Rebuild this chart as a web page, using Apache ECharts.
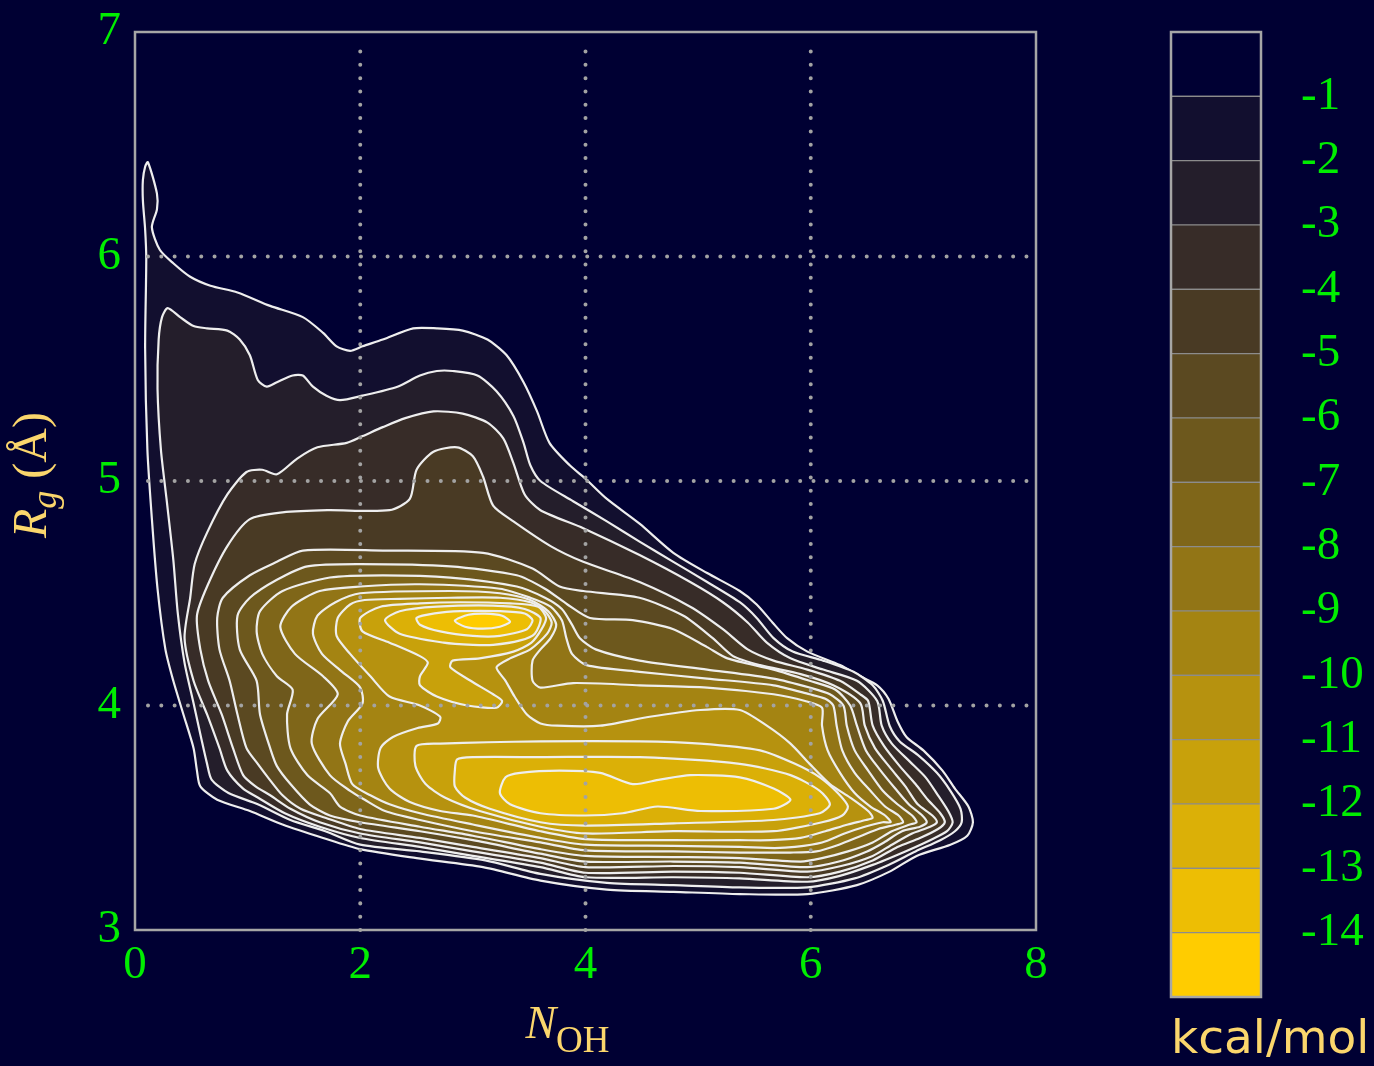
<!DOCTYPE html>
<html><head><meta charset="utf-8">
<script src="https://cdn.jsdelivr.net/npm/echarts/dist/echarts.min.js"></script>
<style>html,body{margin:0;padding:0;background:#000033;}#c{width:1374px;height:1066px;}</style>
</head><body><div id="c"></div>
<script>
// ---- axes / ticks ----
const xTicks = [0, 2, 4, 6, 8];
const yTicks = [3, 4, 5, 6, 7];
const gridX = [2, 4, 6];
const gridY = [4, 5, 6];
// ---- free-energy levels (kcal/mol) and colour scale ----
const levels = [-1, -2, -3, -4, -5, -6, -7, -8, -9, -10, -11, -12, -13, -14];
const fillColors = ['#120f2f', '#241e2b', '#372c28', '#493a24', '#5b4921', '#6d581d', '#7f6619',
                    '#927516', '#a48412', '#b6920f', '#c8a10b', '#dbb007', '#edbe04', '#ffcc00'];
const bandColors = ['#000033'].concat(fillColors);

// ---- contour outlines, [N_OH, Rg] ----
const cL1 = [[0.115,6.42],[0.195,6.28],[0.195,6.21],[0.15,6.13],[0.22,6.03],[0.34,5.97],[0.49,5.91],[0.67,5.87],[0.91,5.84],[1.2,5.78],[1.49,5.73],[1.67,5.66],[1.79,5.60],[1.91,5.58],[2.02,5.60],[2.2,5.63],[2.47,5.68],[2.68,5.68],[2.91,5.67],[3.13,5.63],[3.30,5.56],[3.45,5.44],[3.57,5.31],[3.68,5.17],[3.86,5.07],[4.0,5.01],[4.19,4.92],[4.48,4.81],[4.78,4.68],[5.08,4.59],[5.37,4.51],[5.52,4.45],[5.66,4.37],[5.79,4.30],[5.97,4.24],[6.26,4.18],[6.44,4.13],[6.59,4.09],[6.69,4.03],[6.77,3.93],[6.85,3.86],[7.0,3.80],[7.17,3.71],[7.28,3.63],[7.40,3.55],[7.44,3.48],[7.39,3.42],[7.24,3.38],[6.94,3.33],[6.70,3.26],[6.41,3.20],[5.97,3.16],[5.37,3.16],[4.78,3.17],[4.19,3.18],[3.6,3.22],[3.09,3.28],[2.5,3.32],[2.0,3.36],[1.67,3.41],[1.31,3.47],[1.02,3.53],[0.73,3.58],[0.58,3.64],[0.55,3.71],[0.52,3.81],[0.43,3.96],[0.34,4.11],[0.27,4.25],[0.2,4.52],[0.15,4.83],[0.11,5.14],[0.09,5.59],[0.1,5.99],[0.09,6.12],[0.07,6.25],[0.07,6.34],[0.09,6.40]];
const cL2 = [[0.29,5.77],[0.40,5.73],[0.52,5.69],[0.64,5.68],[0.82,5.67],[0.93,5.63],[1.02,5.56],[1.09,5.45],[1.17,5.42],[1.26,5.44],[1.40,5.47],[1.49,5.47],[1.58,5.42],[1.70,5.38],[1.82,5.36],[2.02,5.38],[2.33,5.42],[2.53,5.47],[2.68,5.49],[2.82,5.49],[3.04,5.47],[3.21,5.40],[3.36,5.29],[3.45,5.17],[3.51,5.07],[3.60,5.0],[3.89,4.91],[4.19,4.82],[4.48,4.73],[4.78,4.64],[5.08,4.55],[5.37,4.46],[5.52,4.39],[5.67,4.30],[5.84,4.24],[6.11,4.20],[6.38,4.15],[6.55,4.09],[6.64,4.02],[6.70,3.91],[6.79,3.84],[6.95,3.78],[7.12,3.70],[7.24,3.62],[7.33,3.54],[7.34,3.48],[7.28,3.44],[7.15,3.40],[6.93,3.35],[6.69,3.29],[6.39,3.23],[5.97,3.19],[5.37,3.19],[4.78,3.20],[4.19,3.21],[3.60,3.25],[3.11,3.31],[2.53,3.35],[2.0,3.38],[1.69,3.44],[1.38,3.49],[1.09,3.56],[0.83,3.61],[0.68,3.67],[0.64,3.74],[0.59,3.85],[0.52,4.01],[0.44,4.19],[0.38,4.41],[0.34,4.65],[0.28,4.92],[0.23,5.14],[0.20,5.41],[0.21,5.63],[0.24,5.73]];
const cL3 = [[0.44,4.30],[0.49,4.48],[0.53,4.63],[0.64,4.77],[0.82,4.94],[0.99,5.04],[1.13,5.05],[1.26,5.03],[1.44,5.10],[1.62,5.15],[1.88,5.17],[2.02,5.20],[2.20,5.24],[2.40,5.28],[2.65,5.31],[2.91,5.30],[3.13,5.26],[3.27,5.19],[3.36,5.08],[3.46,4.94],[3.60,4.87],[3.98,4.79],[4.48,4.67],[4.93,4.55],[5.22,4.46],[5.44,4.37],[5.61,4.28],[5.82,4.21],[6.11,4.16],[6.41,4.11],[6.59,4.02],[6.63,3.91],[6.72,3.83],[6.88,3.75],[7.02,3.68],[7.13,3.60],[7.22,3.53],[7.26,3.48],[7.21,3.44],[7.06,3.40],[6.84,3.35],[6.55,3.29],[6.25,3.24],[5.97,3.215],[5.37,3.23],[4.78,3.235],[4.0,3.235],[3.60,3.28],[3.0,3.33],[2.53,3.37],[2.0,3.41],[1.64,3.46],[1.33,3.52],[1.09,3.59],[0.96,3.63],[0.82,3.71],[0.75,3.81],[0.64,3.96],[0.52,4.11]];
const cL4 = [[0.58,4.25],[0.55,4.40],[0.64,4.53],[0.82,4.71],[1.02,4.83],[1.31,4.86],[1.71,4.87],[2.26,4.87],[2.44,4.92],[2.50,5.05],[2.65,5.13],[2.86,5.15],[3.0,5.11],[3.09,5.02],[3.18,4.89],[3.36,4.82],[3.69,4.71],[3.98,4.64],[4.48,4.55],[4.93,4.44],[5.22,4.34],[5.44,4.25],[5.67,4.20],[5.97,4.16],[6.26,4.11],[6.44,4.05],[6.51,4.02],[6.55,3.91],[6.65,3.82],[6.79,3.73],[6.93,3.65],[7.04,3.58],[7.15,3.52],[7.19,3.48],[7.13,3.45],[6.97,3.41],[6.77,3.37],[6.55,3.31],[6.26,3.26],[5.97,3.235],[5.37,3.255],[4.78,3.26],[4.0,3.255],[3.60,3.30],[3.0,3.35],[2.53,3.39],[2.0,3.43],[1.64,3.48],[1.38,3.54],[1.20,3.60],[1.07,3.64],[0.96,3.69],[0.87,3.81],[0.77,3.96],[0.65,4.11]];
const cL5 = [[0.75,4.25],[0.73,4.39],[0.78,4.48],[1.02,4.58],[1.26,4.64],[1.49,4.69],[2.20,4.69],[3.09,4.68],[3.53,4.61],[3.77,4.53],[3.98,4.51],[4.48,4.48],[4.87,4.40],[5.13,4.30],[5.31,4.22],[5.55,4.18],[5.91,4.14],[6.20,4.09],[6.44,4.01],[6.48,3.91],[6.57,3.81],[6.71,3.72],[6.84,3.64],[6.95,3.56],[7.08,3.51],[7.12,3.48],[7.06,3.46],[6.90,3.43],[6.72,3.38],[6.55,3.33],[6.27,3.285],[5.97,3.26],[5.37,3.28],[4.78,3.285],[4.0,3.28],[3.60,3.32],[3.0,3.37],[2.53,3.41],[2.0,3.45],[1.69,3.50],[1.47,3.54],[1.31,3.60],[1.18,3.68],[1.09,3.74],[0.99,3.81],[0.91,3.96],[0.84,4.11]];
const cL6 = [[0.93,4.25],[0.91,4.40],[1.02,4.48],[1.26,4.56],[1.53,4.62],[2.0,4.63],[2.80,4.62],[3.39,4.58],[3.64,4.52],[3.84,4.45],[4.04,4.39],[4.42,4.38],[4.78,4.34],[5.08,4.26],[5.26,4.21],[5.67,4.16],[5.99,4.11],[6.22,4.07],[6.35,4.00],[6.41,3.91],[6.49,3.80],[6.62,3.71],[6.75,3.63],[6.87,3.56],[6.99,3.51],[7.03,3.48],[6.97,3.46],[6.81,3.44],[6.65,3.39],[6.50,3.35],[6.25,3.305],[5.97,3.28],[5.37,3.30],[4.78,3.305],[4.0,3.305],[3.60,3.34],[3.0,3.40],[2.53,3.44],[2.0,3.48],[1.73,3.51],[1.55,3.56],[1.38,3.65],[1.26,3.73],[1.20,3.81],[1.11,3.96],[1.08,4.11]];
const cL7 = [[1.13,4.23],[1.08,4.33],[1.11,4.42],[1.31,4.51],[1.73,4.57],[2.20,4.58],[2.80,4.57],[3.39,4.53],[3.64,4.48],[3.79,4.43],[3.88,4.36],[3.95,4.30],[4.09,4.25],[4.48,4.20],[5.08,4.16],[5.67,4.12],[5.99,4.08],[6.17,4.05],[6.29,4.00],[6.32,3.91],[6.39,3.80],[6.51,3.71],[6.64,3.62],[6.77,3.56],[6.90,3.51],[6.94,3.48],[6.88,3.47],[6.72,3.44],[6.55,3.39],[6.33,3.35],[6.10,3.32],[5.91,3.305],[5.37,3.32],[4.78,3.325],[4.0,3.33],[3.60,3.36],[3.0,3.42],[2.53,3.46],[2.0,3.51],[1.82,3.55],[1.73,3.61],[1.53,3.69],[1.38,3.81],[1.35,3.96],[1.40,4.07],[1.26,4.13]];
const cL8 = [[1.29,4.35],[1.39,4.44],[1.64,4.51],[2.0,4.53],[2.53,4.54],[3.24,4.52],[3.51,4.48],[3.69,4.44],[3.79,4.38],[3.83,4.30],[3.88,4.23],[4.01,4.18],[4.48,4.15],[5.08,4.12],[5.67,4.09],[5.99,4.05],[6.13,4.03],[6.20,4.00],[6.23,3.91],[6.28,3.80],[6.39,3.70],[6.53,3.62],[6.66,3.55],[6.78,3.51],[6.82,3.48],[6.76,3.47],[6.60,3.45],[6.45,3.42],[6.25,3.38],[6.05,3.35],[5.82,3.345],[5.37,3.345],[4.78,3.35],[4.0,3.355],[3.60,3.39],[3.0,3.44],[2.53,3.49],[2.22,3.53],[2.04,3.58],[1.91,3.62],[1.73,3.69],[1.57,3.83],[1.62,3.94],[1.80,4.05],[1.67,4.13],[1.42,4.23]];
const cL9 = [[1.78,4.46],[2.0,4.50],[2.80,4.51],[3.24,4.50],[3.51,4.47],[3.67,4.42],[3.74,4.36],[3.69,4.30],[3.60,4.25],[3.53,4.20],[3.53,4.11],[3.60,4.08],[3.89,4.10],[4.48,4.09],[5.08,4.08],[5.67,4.05],[5.95,4.02],[6.10,3.99],[6.10,3.91],[6.15,3.80],[6.26,3.70],[6.39,3.61],[6.53,3.55],[6.66,3.51],[6.71,3.48],[6.64,3.48],[6.48,3.46],[6.30,3.43],[6.10,3.39],[5.86,3.37],[5.68,3.365],[5.37,3.37],[4.78,3.375],[4.0,3.38],[3.60,3.41],[3.0,3.47],[2.53,3.52],[2.26,3.56],[2.09,3.60],[1.93,3.65],[1.87,3.74],[1.82,3.83],[1.89,3.93],[2.02,4.01],[2.0,4.08],[1.84,4.15],[1.66,4.23],[1.58,4.32],[1.62,4.40]];
const cL10 = [[1.80,4.39],[1.91,4.45],[2.04,4.47],[2.35,4.475],[2.80,4.48],[3.24,4.48],[3.51,4.46],[3.64,4.42],[3.70,4.37],[3.66,4.32],[3.51,4.25],[3.33,4.21],[3.21,4.17],[3.29,4.11],[3.37,4.04],[3.48,3.96],[3.60,3.92],[3.75,3.91],[4.13,3.91],[4.57,3.95],[5.02,3.98],[5.37,3.98],[5.61,3.91],[5.82,3.83],[5.99,3.74],[6.17,3.65],[6.35,3.59],[6.51,3.53],[6.55,3.50],[6.49,3.49],[6.33,3.47],[6.13,3.44],[5.91,3.41],[5.64,3.40],[5.37,3.40],[4.78,3.40],[4.0,3.405],[3.60,3.44],[3.0,3.51],[2.71,3.53],[2.44,3.57],[2.26,3.63],[2.16,3.72],[2.18,3.81],[2.29,3.86],[2.51,3.90],[2.69,3.92],[2.71,3.95],[2.53,4.00],[2.26,4.04],[2.09,4.13],[1.91,4.23],[1.79,4.31]];
const cL11a = [[2.0,4.39],[2.18,4.44],[2.53,4.455],[2.89,4.46],[3.33,4.455],[3.58,4.44],[3.65,4.39],[3.61,4.34],[3.52,4.28],[3.36,4.24],[3.06,4.21],[2.82,4.20],[2.80,4.17],[2.98,4.11],[3.18,4.05],[3.26,4.02],[3.21,3.99],[2.95,4.00],[2.68,4.04],[2.53,4.09],[2.53,4.13],[2.60,4.19],[2.53,4.22],[2.26,4.28],[2.02,4.33]];
const cL11b = [[2.50,3.82],[2.71,3.83],[3.60,3.84],[4.48,3.84],[5.02,3.83],[5.55,3.80],[5.86,3.74],[6.08,3.68],[6.24,3.61],[6.33,3.55],[6.28,3.51],[6.10,3.48],[5.67,3.44],[4.78,3.44],[4.0,3.43],[3.60,3.46],[3.06,3.53],[2.75,3.59],[2.58,3.65],[2.49,3.73]];
const cL12a = [[2.22,4.38],[2.35,4.42],[2.68,4.44],[3.18,4.445],[3.46,4.43],[3.60,4.39],[3.55,4.32],[3.42,4.29],[3.18,4.27],[3.0,4.27],[2.74,4.28],[2.35,4.32]];
const cL12b = [[2.86,3.76],[3.0,3.77],[3.60,3.77],[4.48,3.77],[5.37,3.74],[5.82,3.69],[6.08,3.62],[6.17,3.56],[6.08,3.52],[5.67,3.49],[4.78,3.475],[4.0,3.465],[3.60,3.48],[3.15,3.54],[2.93,3.59],[2.84,3.64],[2.84,3.71]];
const cL13a = [[2.50,4.39],[2.66,4.41],[2.89,4.42],[3.24,4.42],[3.46,4.41],[3.53,4.38],[3.48,4.34],[3.24,4.31],[3.0,4.31],[2.71,4.33],[2.53,4.36]];
const cL13b = [[3.29,3.68],[3.42,3.70],[3.77,3.71],[4.13,3.70],[4.42,3.65],[4.66,3.67],[4.93,3.69],[5.37,3.68],[5.67,3.63],[5.82,3.58],[5.67,3.54],[5.02,3.53],[4.64,3.55],[4.33,3.52],[4.0,3.51],[3.60,3.52],[3.33,3.56],[3.24,3.61]];
const cL14 = [[2.84,4.378],[2.96,4.404],[3.11,4.409],[3.26,4.40],[3.33,4.373],[3.24,4.351],[3.09,4.342],[2.93,4.351]];

const polys = [
  {lv: 1, pts: cL1}, {lv: 2, pts: cL2}, {lv: 3, pts: cL3}, {lv: 4, pts: cL4}, {lv: 5, pts: cL5},
  {lv: 6, pts: cL6}, {lv: 7, pts: cL7}, {lv: 8, pts: cL8}, {lv: 9, pts: cL9}, {lv: 10, pts: cL10},
  {lv: 11, pts: cL11a}, {lv: 11, pts: cL11b}, {lv: 12, pts: cL12a}, {lv: 12, pts: cL12b},
  {lv: 13, pts: cL13a}, {lv: 13, pts: cL13b}, {lv: 14, pts: cL14}
];

const GREEN = '#00ee00';
const YELLOW = '#fbd66c';
const chart = echarts.init(document.getElementById('c'), null, {renderer: 'canvas'});

const series = [];
polys.forEach(function (p) {
  series.push({
    type: 'custom', xAxisIndex: 0, yAxisIndex: 0, silent: true, animation: false, clip: false,
    data: [p.pts[0]],
    renderItem: function (params, api) {
      return {
        type: 'polygon',
        shape: {points: p.pts.map(function (q) { return api.coord(q); }), smooth: 0.25},
        style: {fill: fillColors[p.lv - 1], stroke: '#eeeeee', lineWidth: 2.2}
      };
    }
  });
});
// dotted grid lines drawn above the map
series.push({
  type: 'custom', xAxisIndex: 0, yAxisIndex: 0, silent: true, animation: false, z: 10,
  data: gridX.map(function (v) { return [v, yTicks[0]]; }),
  renderItem: function (params, api) {
    const v = api.value(0);
    const a = api.coord([v, yTicks[0]]), b = api.coord([v, yTicks[yTicks.length - 1]]);
    return {type: 'line', shape: {x1: a[0], y1: a[1], x2: b[0], y2: b[1] + 10},
      style: {stroke: '#a3a3a3', lineWidth: 4, lineDash: [0.01, 13.3], lineCap: 'round'}};
  }
});
series.push({
  type: 'custom', xAxisIndex: 0, yAxisIndex: 0, silent: true, animation: false, z: 10,
  data: gridY.map(function (v) { return [xTicks[0], v]; }),
  renderItem: function (params, api) {
    const v = api.value(1);
    const a = api.coord([xTicks[0], v]), b = api.coord([xTicks[xTicks.length - 1], v]);
    return {type: 'line', shape: {x1: a[0] + 13, y1: a[1], x2: b[0] - 8, y2: b[1]},
      style: {stroke: '#a3a3a3', lineWidth: 4, lineDash: [0.01, 13.3], lineCap: 'round'}};
  }
});
// colour bar
series.push({
  type: 'custom', xAxisIndex: 1, yAxisIndex: 1, silent: true, animation: false,
  data: bandColors.map(function (c, i) { return [0, -i]; }),
  renderItem: function (params, api) {
    const top = api.value(1);
    const p1 = api.coord([0, top]), p2 = api.coord([1, top - 1]);
    return {type: 'rect', shape: {x: p1[0], y: p1[1], width: p2[0] - p1[0], height: p2[1] - p1[1]},
      style: {fill: bandColors[-top], stroke: '#8c8c8c', lineWidth: 1.2}};
  }
});
series.push({
  type: 'custom', xAxisIndex: 1, yAxisIndex: 1, silent: true, animation: false, z: 5,
  data: [[0, 0]],
  renderItem: function (params, api) {
    const p1 = api.coord([0, 0]), p2 = api.coord([1, -bandColors.length]);
    return {type: 'rect', shape: {x: p1[0], y: p1[1], width: p2[0] - p1[0], height: p2[1] - p1[1]},
      style: {fill: 'none', stroke: '#a6a6a6', lineWidth: 2.5}};
  }
});

const tickFont = {color: GREEN, fontSize: 47, fontFamily: 'Liberation Serif'};
const option = {
  backgroundColor: '#000033',
  animation: false,
  grid: [
    {left: 135, right: 338, top: 32, bottom: 134, show: true, borderColor: '#a6a6a6', borderWidth: 2.5, backgroundColor: 'transparent'},
    {left: 1171, width: 90, top: 32, bottom: 69, show: false}
  ],
  xAxis: [
    {type: 'value', gridIndex: 0, min: xTicks[0], max: xTicks[xTicks.length - 1], interval: 2,
     axisLine: {show: false}, axisTick: {show: false}, splitLine: {show: false},
     axisLabel: Object.assign({margin: 12}, tickFont),
     name: '{i|N}{s|OH}', nameLocation: 'middle', nameGap: 73,
     nameTextStyle: {padding: [0, 36, 0, 0], rich: {
       i: {fontFamily: 'Liberation Serif', fontStyle: 'italic', fontSize: 46, color: YELLOW, lineHeight: 58, verticalAlign: 'top'},
       s: {fontFamily: 'Liberation Serif', fontSize: 37, color: YELLOW, lineHeight: 40, verticalAlign: 'bottom'}}}},
    {type: 'value', gridIndex: 1, min: 0, max: 1, show: false}
  ],
  yAxis: [
    {type: 'value', gridIndex: 0, min: yTicks[0], max: yTicks[yTicks.length - 1], interval: 1,
     axisLine: {show: false}, axisTick: {show: false}, splitLine: {show: false},
     axisLabel: Object.assign({margin: 14}, tickFont),
     name: '{i|R}{s|g}{r| (Å)}', nameLocation: 'middle', nameGap: 70, nameRotate: 90,
     nameTextStyle: {padding: [0, 0, 0, 12], rich: {
       i: {fontFamily: 'Liberation Serif', fontStyle: 'italic', fontSize: 48, color: YELLOW, lineHeight: 56, verticalAlign: 'top'},
       s: {fontFamily: 'Liberation Serif', fontStyle: 'italic', fontSize: 36, color: YELLOW, lineHeight: 38, verticalAlign: 'bottom'},
       r: {fontFamily: 'Liberation Serif', fontSize: 48, color: YELLOW, lineHeight: 56, verticalAlign: 'top'}}}},
    {type: 'value', gridIndex: 1, min: -15, max: 0, interval: 1, position: 'right',
     axisLine: {show: false}, axisTick: {show: false}, splitLine: {show: false},
     axisLabel: Object.assign({margin: 40, padding: [0, 0, 8, 0], formatter: function (v) {
       return levels.indexOf(v) >= 0 ? String(v) : ''; }}, tickFont)}
  ],
  graphic: [
    {type: 'text', left: 1171, top: 1017, silent: true,
     style: {text: 'kcal/mol', fill: YELLOW, font: '47px "DejaVu Sans"'}}
  ],
  series: series
};
chart.setOption(option);
</script>
</body></html>
